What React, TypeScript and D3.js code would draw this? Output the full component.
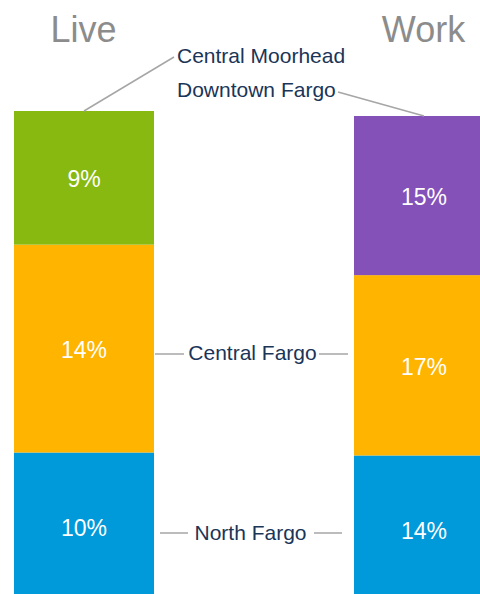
import React from "react";
import * as d3 from "d3";

const columns = ["Live", "Work"];
const liveSegments = ["North Fargo", "Central Fargo", "Central Moorhead"];
const liveValues = [10, 14, 9];
const workSegments = ["North Fargo", "Central Fargo", "Downtown Fargo"];
const workValues = [14, 17, 15];

const colorMap: Record<string, string> = {
  "North Fargo": "#0099D9",
  "Central Fargo": "#FFB400",
  "Central Moorhead": "#87B910",
  "Downtown Fargo": "#8451B8",
};

const W = 480;
const H = 594;
const BAR_W = 140;
const FONT = "'Liberation Sans', Arial, sans-serif";
const NAVY = "#1A3558";
const LINE = "#A6A6A6";

type Seg = { name: string; value: number; y0: number; y1: number };

function stack(names: string[], values: number[]): Seg[] {
  let acc = 0;
  return names.map((n, i) => {
    const s = { name: n, value: values[i], y0: acc, y1: acc + values[i] };
    acc += values[i];
    return s;
  });
}

export default function App() {
  const x = d3.scalePoint<string>().domain(columns).range([84, 424]);
  const liveStack = stack(liveSegments, liveValues);
  const workStack = stack(workSegments, workValues);
  const yLive = d3
    .scaleLinear()
    .domain([0, d3.sum(liveValues)])
    .range([601, 111]);
  const yWork = d3
    .scaleLinear()
    .domain([0, d3.sum(workValues)])
    .range([604, 116]);

  const bars = [
    { col: "Live", segs: liveStack, y: yLive },
    { col: "Work", segs: workStack, y: yWork },
  ];

  const lx = x("Live")!;
  const wx = x("Work")!;

  return (
    <svg
      width={W}
      height={H}
      style={{ position: "absolute", left: 0, top: 0, background: "#fff" }}
      fontFamily={FONT}
    >
      {bars.map((b) => (
        <g key={b.col}>
          {b.segs.map((s) => (
            <g key={s.name}>
              <rect
                x={x(b.col)! - BAR_W / 2}
                y={b.y(s.y1)}
                width={BAR_W}
                height={b.y(s.y0) - b.y(s.y1)}
                fill={colorMap[s.name]}
              />
              <text
                x={x(b.col)!}
                y={(b.y(s.y0) + b.y(s.y1)) / 2 + 1}
                dy="0.36em"
                textAnchor="middle"
                fill="#fff"
                fontSize={23}
              >
                {s.value}%
              </text>
            </g>
          ))}
          <text
            x={x(b.col)! - 0.5}
            y={42}
            textAnchor="middle"
            fill="#8C8C8C"
            fontSize={36}
          >
            {b.col}
          </text>
        </g>
      ))}

      {/* Central Moorhead leader */}
      <line x1={lx} y1={yLive(d3.sum(liveValues))} x2={174} y2={57} stroke={LINE} strokeWidth={1.5} />
      <text x={177} y={63} fill={NAVY} fontSize={21}>Central Moorhead</text>

      {/* Downtown Fargo leader */}
      <text x={177} y={97} fill={NAVY} fontSize={21}>Downtown Fargo</text>
      <line x1={338} y1={92} x2={wx} y2={yWork(d3.sum(workValues))} stroke={LINE} strokeWidth={1.5} />

      {/* Central Fargo */}
      <line x1={155} y1={354} x2={184} y2={354} stroke={LINE} strokeWidth={1.5} />
      <text x={252.5} y={360} textAnchor="middle" fill={NAVY} fontSize={21}>Central Fargo</text>
      <line x1={319} y1={354} x2={348} y2={354} stroke={LINE} strokeWidth={1.5} />

      {/* North Fargo */}
      <line x1={160} y1={533} x2={188} y2={533} stroke={LINE} strokeWidth={1.5} />
      <text x={250.5} y={540} textAnchor="middle" fill={NAVY} fontSize={21}>North Fargo</text>
      <line x1={314} y1={533} x2={342} y2={533} stroke={LINE} strokeWidth={1.5} />
    </svg>
  );
}
